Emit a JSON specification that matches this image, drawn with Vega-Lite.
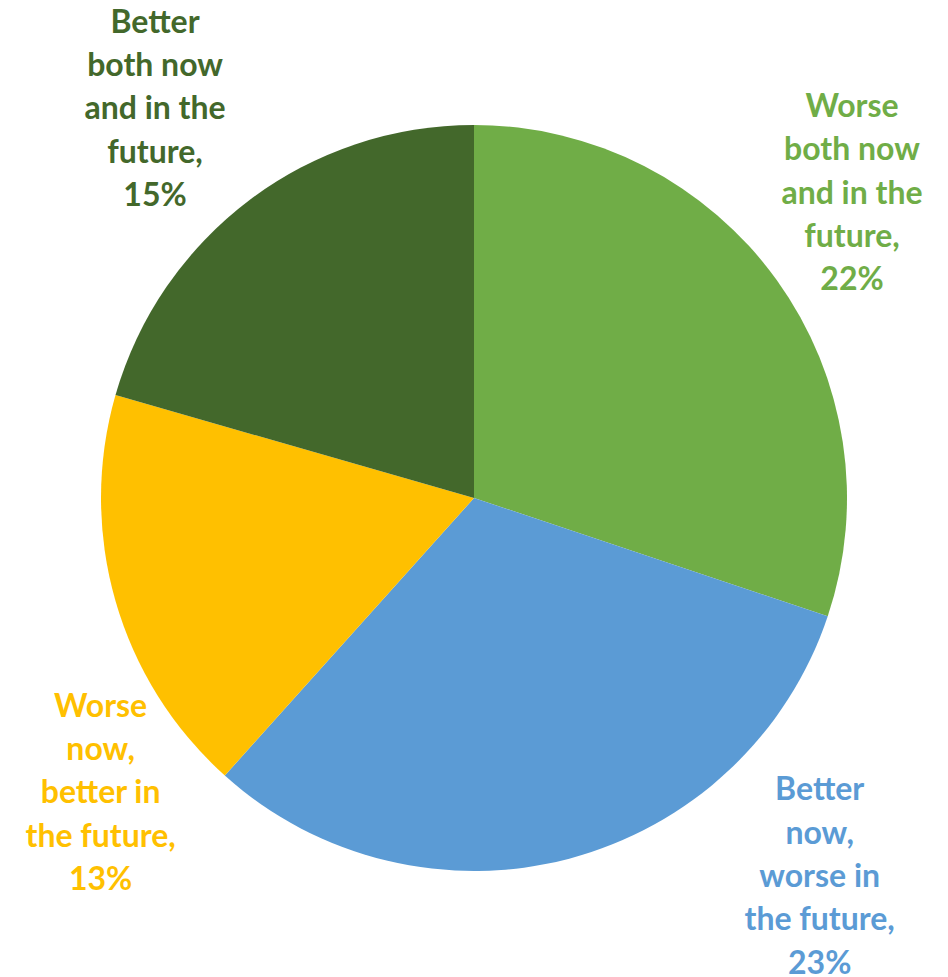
{
  "$schema": "https://vega.github.io/schema/vega-lite/v6.json",
  "autosize": "none",
  "width": 948,
  "height": 958,
  "padding": {"top": 19, "left": 0, "right": 0, "bottom": 0},
  "background": "white",
  "view": {"stroke": null},
  "data": {
    "values": [
      {"category": "Worse both now and in the future", "value": 22, "order": 1, "label": "Worse\nboth now\nand in the\nfuture,\n22%"},
      {"category": "Better now, worse in the future", "value": 23, "order": 2, "label": "Better\nnow,\nworse in\nthe future,\n23%"},
      {"category": "Worse now, better in the future", "value": 13, "order": 3, "label": "Worse\nnow,\nbetter in\nthe future,\n13%"},
      {"category": "Better both now and in the future", "value": 15, "order": 4, "label": "Better\nboth now\nand in the\nfuture,\n15%"}
    ]
  },
  "encoding": {
    "color": {
      "field": "category",
      "type": "nominal",
      "legend": null,
      "scale": {
        "domain": ["Worse both now and in the future", "Better now, worse in the future", "Worse now, better in the future", "Better both now and in the future"],
        "range": ["#70AD47", "#5B9BD5", "#FFC000", "#43682B"]
      }
    }
  },
  "layer": [
    {
      "mark": {"type": "arc", "outerRadius": 373},
      "encoding": {
        "theta": {"field": "value", "type": "quantitative", "stack": true},
        "order": {"field": "order", "type": "quantitative"}
      }
    },
    {
      "transform": [
        {"stack": "value", "groupby": [], "sort": [{"field": "order", "order": "ascending"}], "as": ["v0", "v1"]},
        {"filter": "datum.order == 1"}
      ],
      "mark": {"type": "text", "radius": 490, "dx": 378, "dy": 99, "font": "Lato", "fontWeight": "bold", "fontSize": 32, "lineHeight": 43.3, "lineBreak": "\n", "align": "center", "baseline": "middle"},
      "encoding": {"theta": {"field": "v0", "type": "quantitative", "stack": null}, "text": {"field": "label"}}
    },
    {
      "transform": [
        {"stack": "value", "groupby": [], "sort": [{"field": "order", "order": "ascending"}], "as": ["v0", "v1"]},
        {"filter": "datum.order == 2"}
      ],
      "mark": {"type": "text", "radius": 490, "dx": -119, "dy": 137, "font": "Lato", "fontWeight": "bold", "fontSize": 32, "lineHeight": 43.3, "lineBreak": "\n", "align": "center", "baseline": "middle"},
      "encoding": {"theta": {"field": "v0", "type": "quantitative", "stack": null}, "text": {"field": "label"}}
    },
    {
      "transform": [
        {"stack": "value", "groupby": [], "sort": [{"field": "order", "order": "ascending"}], "as": ["v0", "v1"]},
        {"filter": "datum.order == 3"}
      ],
      "mark": {"type": "text", "radius": 490, "dx": -46, "dy": -156, "font": "Lato", "fontWeight": "bold", "fontSize": 32, "lineHeight": 43.3, "lineBreak": "\n", "align": "center", "baseline": "middle"},
      "encoding": {"theta": {"field": "v0", "type": "quantitative", "stack": null}, "text": {"field": "label"}}
    },
    {
      "transform": [
        {"stack": "value", "groupby": [], "sort": [{"field": "order", "order": "ascending"}], "as": ["v0", "v1"]},
        {"filter": "datum.order == 4"}
      ],
      "mark": {"type": "text", "radius": 490, "dx": 152, "dy": -340, "font": "Lato", "fontWeight": "bold", "fontSize": 32, "lineHeight": 43.3, "lineBreak": "\n", "align": "center", "baseline": "middle"},
      "encoding": {"theta": {"field": "v0", "type": "quantitative", "stack": null}, "text": {"field": "label"}}
    }
  ]
}
